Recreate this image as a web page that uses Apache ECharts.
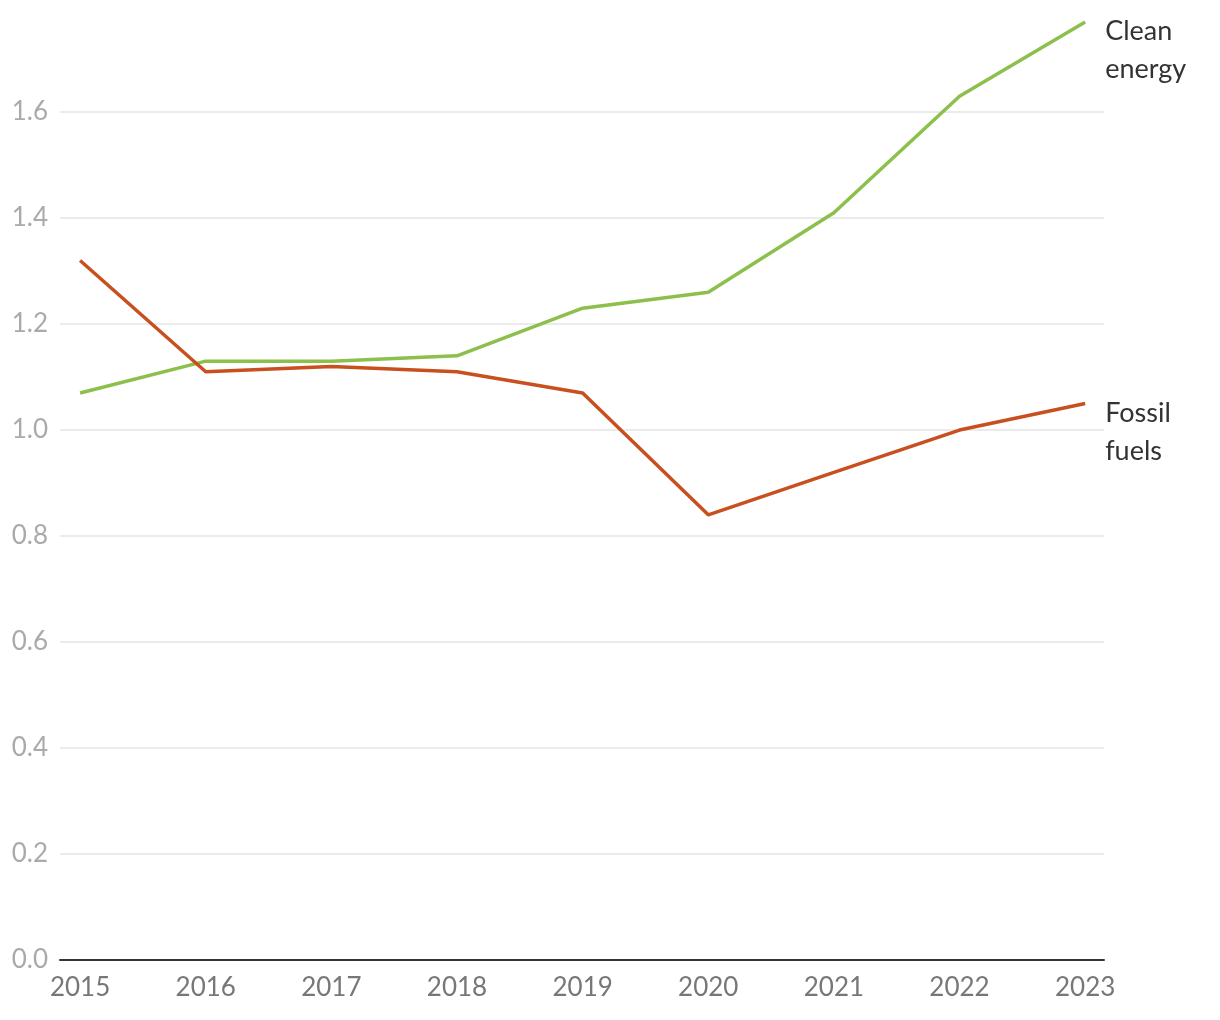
<!DOCTYPE html>
<html>
<head>
<meta charset="utf-8">
<script src="https://cdn.jsdelivr.net/npm/echarts@6/dist/echarts.min.js"></script>
<style>
  html, body { margin: 0; padding: 0; background: #fff; }
  #chart { width: 1220px; height: 1020px; }
</style>
</head>
<body>
<div id="chart"></div>
<script>
// years on the x axis
var years = [2015, 2016, 2017, 2018, 2019, 2020, 2021, 2022, 2023];
// clean energy vs fossil fuels
var cleanEnergy = [1.07, 1.13, 1.13, 1.14, 1.23, 1.26, 1.41, 1.63, 1.77];
var fossilFuels = [1.32, 1.11, 1.12, 1.11, 1.07, 0.84, 0.92, 1.0, 1.05];
var seriesNames = ["Clean\nenergy", "Fossil\nfuels"];

function pairs(values) {
  return years.map(function (y, i) {
    return [y, values[i]];
  });
}

var FONT = "Lato, 'Open Sans', sans-serif";

var myChart = echarts.init(document.getElementById("chart"), null, { renderer: "canvas" });

var option = {
  animation: false,
  grid: {
    left: 60,
    right: 116,
    top: 22,
    bottom: 60,
    containLabel: false,
  },
  xAxis: {
    type: "value",
    min: 2014.84,
    max: 2023.15,
    axisLine: { show: true, onZero: false, lineStyle: { color: "#333", width: 2 } },
    axisTick: { show: false },
    splitLine: { show: false },
    axisLabel: {
      customValues: years,
      formatter: function (v) { return String(v); },
      color: "#777",
      fontSize: 26,
      fontFamily: FONT,
      margin: 15,
    },
  },
  yAxis: {
    type: "value",
    min: 0,
    max: 1.77,
    interval: 0.2,
    axisLine: { show: false },
    axisTick: { show: false },
    axisLabel: {
      showMaxLabel: false,
      formatter: function (v) { return v.toFixed(1); },
      color: "#aaa",
      fontSize: 26,
      fontFamily: FONT,
      margin: 12,
    },
    splitLine: {
      show: true,
      lineStyle: {
        color: ["#e4e4e4", "#e4e4e4", "#e4e4e4", "#e4e4e4", "#e4e4e4",
                "#e4e4e4", "#e4e4e4", "#e4e4e4", "#e4e4e4", "transparent"],
        width: 1.5,
      },
    },
  },
  series: [
    {
      name: seriesNames[0],
      type: "line",
      data: pairs(cleanEnergy),
      symbol: "none",
      color: "#8cbf4c",
      lineStyle: { width: 3.5 },
      z: 3,
      endLabel: {
        show: true,
        formatter: seriesNames[0],
        distance: 20,
        offset: [0, 28],
        align: "left",
        verticalAlign: "middle",
        color: "#333",
        fontSize: 27,
        lineHeight: 38,
        fontFamily: FONT,
      },
    },
    {
      name: seriesNames[1],
      type: "line",
      data: pairs(fossilFuels),
      symbol: "none",
      color: "#c8501e",
      lineStyle: { width: 3.5 },
      z: 3,
      endLabel: {
        show: true,
        formatter: seriesNames[1],
        distance: 20,
        offset: [0, 29],
        align: "left",
        verticalAlign: "middle",
        color: "#333",
        fontSize: 27,
        lineHeight: 38,
        fontFamily: FONT,
      },
    },
  ],
};

myChart.setOption(option);
</script>
</body>
</html>
